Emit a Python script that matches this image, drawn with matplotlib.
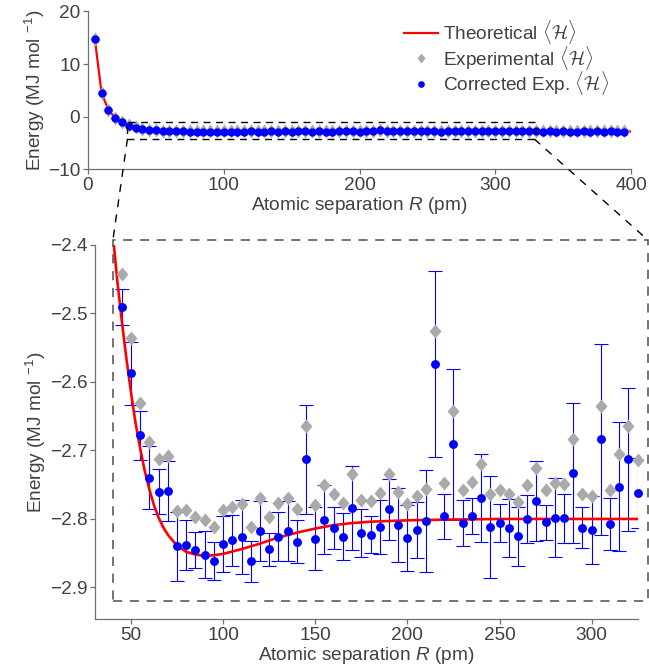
import numpy as np
import matplotlib
matplotlib.use('Agg')
import matplotlib.pyplot as plt
from matplotlib.patches import Rectangle, ConnectionPatch
from matplotlib.font_manager import FontProperties
from matplotlib.markers import MarkerStyle
from matplotlib.transforms import Affine2D

# ---- data -------------------------------------------------------------
# theoretical curve
theo_x = [5, 10, 15, 20, 25, 30, 35, 40, 42.5, 45, 47.5, 50, 52.5, 55, 57.5,
          60, 62.5, 65, 67.5, 70, 75, 80, 85, 90, 95, 100, 110, 120, 130, 140,
          150, 160, 170, 180, 190, 200, 220, 250, 300, 350, 400]
theo_y = [14.8, 4.5, 1.3, -0.2, -1.1, -1.7, -2.1, -2.38, -2.45, -2.51, -2.565,
          -2.615, -2.66, -2.697, -2.730, -2.757, -2.780, -2.798, -2.812, -2.823,
          -2.839, -2.848, -2.852, -2.854, -2.853, -2.851, -2.844, -2.836, -2.827,
          -2.820, -2.814, -2.809, -2.806, -2.804, -2.803, -2.802, -2.801, -2.800,
          -2.800, -2.800, -2.800]

# short separations (only visible in the overview panel)
near_x = [5, 10, 15, 20, 25, 30, 35, 40]
near_exp = [14.85, 4.55, 1.35, -0.25, -1.05, -1.65, -2.05, -2.33]
near_corr = [14.8, 4.5, 1.3, -0.3, -1.1, -1.7, -2.1, -2.38]

# zoomed range
zoom_x = np.arange(45, 330, 5)
zoom_corr = [-2.491, -2.587, -2.678, -2.740, -2.760, -2.759, -2.840, -2.838,
             -2.845, -2.852, -2.861, -2.837, -2.831, -2.826, -2.862, -2.818,
             -2.844, -2.826, -2.818, -2.833, -2.713, -2.829, -2.801, -2.813,
             -2.826, -2.784, -2.821, -2.823, -2.812, -2.786, -2.809, -2.828,
             -2.816, -2.803, -2.574, -2.796, -2.691, -2.806, -2.796, -2.769,
             -2.812, -2.806, -2.813, -2.825, -2.800, -2.774, -2.805, -2.798,
             -2.799, -2.733, -2.813, -2.816, -2.684, -2.808, -2.753, -2.713,
             -2.762]
zoom_exp = [-2.443, -2.536, -2.630, -2.688, -2.712, -2.708, -2.788, -2.787,
            -2.797, -2.802, -2.812, -2.787, -2.783, -2.778, -2.812, -2.769,
            -2.797, -2.776, -2.769, -2.785, -2.665, -2.779, -2.751, -2.764,
            -2.776, -2.735, -2.773, -2.774, -2.762, -2.735, -2.760, -2.778,
            -2.767, -2.756, -2.525, -2.747, -2.643, -2.757, -2.746, -2.720,
            -2.763, -2.757, -2.763, -2.775, -2.751, -2.726, -2.757, -2.748,
            -2.749, -2.684, -2.764, -2.766, -2.635, -2.758, -2.705, -2.664,
            -2.714]
zoom_err = [0.026, 0.046, 0.036, 0.046, 0.033, 0.044, 0.050, 0.037, 0.026,
            0.034, 0.028, 0.041, 0.037, 0.054, 0.030, 0.044, 0.024, 0.036,
            0.044, 0.032, 0.080, 0.046, 0.050, 0.031, 0.034, 0.062, 0.035,
            0.027, 0.039, 0.045, 0.054, 0.048, 0.041, 0.075, 0.136, 0.033,
            0.110, 0.034, 0.026, 0.064, 0.074, 0.028, 0.042, 0.043, 0.035,
            0.058, 0.025, 0.058, 0.036, 0.102, 0.030, 0.050, 0.140, 0.038,
            0.094, 0.104, 0.051]

# long separations (only visible in the overview panel)
far_x = [330, 335, 340, 345, 350, 355, 360, 365, 370, 375, 380, 385, 390, 395]
far_exp = [-2.76, -2.78, -2.74, -2.77, -2.75, -2.79, -2.77, -2.76, -2.78,
           -2.75, -2.77, -2.76, -2.79, -2.77]
far_corr = [-2.81, -2.83, -2.79, -2.82, -2.80, -2.84, -2.82, -2.81, -2.83,
            -2.80, -2.82, -2.81, -2.84, -2.82]

all_x = np.concatenate([near_x, zoom_x, far_x])
all_exp = np.concatenate([near_exp, zoom_exp, far_exp])
all_corr = np.concatenate([near_corr, zoom_corr, far_corr])

# ---- style ------------------------------------------------------------
fs = 13.7
plt.rcParams['font.family'] = ['Liberation Sans', 'DejaVu Sans']
plt.rcParams['font.size'] = fs
plt.rcParams['mathtext.fontset'] = 'custom'
plt.rcParams['mathtext.rm'] = 'Liberation Sans'
plt.rcParams['mathtext.it'] = 'Liberation Sans:italic'
txt_col = '#404040'
ax_col = '#707070'
diamond = MarkerStyle('D', transform=Affine2D().scale(0.62, 0.75))

fig = plt.figure(figsize=(6.49, 6.68), dpi=100)
ax_top = fig.add_axes([0.1356, 0.7466, 0.8367, 0.2362])
ax_bot = fig.add_axes([0.1464, 0.0734, 0.8362, 0.5599])

for ax in (ax_top, ax_bot):
    for s in ('top', 'right'):
        ax.spines[s].set_visible(False)
    for s in ('left', 'bottom'):
        ax.spines[s].set_color(ax_col)
        ax.spines[s].set_linewidth(0.9)
    ax.tick_params(direction='out', length=3.5, width=0.9, color=ax_col,
                   labelcolor=txt_col, labelsize=fs, pad=2)
    ax.set_xlabel(r'Atomic separation $\mathit{R}$ (pm)', color=txt_col, labelpad=1)
    ax.set_ylabel(r'Energy (MJ mol $^{-1}$)', color=txt_col, labelpad=1)

# top: overview
ax_top.plot(theo_x, theo_y, color='red', lw=1.6, zorder=2,
            label=r'Theoretical $\langle\mathcal{H}\rangle$')
ax_top.plot(all_x, all_exp, ls='none', marker=diamond, color='#aaaaaa', ms=9,
            mec='none', zorder=3, label=r'Experimental $\langle\mathcal{H}\rangle$')
ax_top.plot(all_x, all_corr, 'o', color='blue', ms=6, mec='none', zorder=4,
            label=r'Corrected Exp. $\langle\mathcal{H}\rangle$')
ax_top.set_xlim(0, 400)
ax_top.set_ylim(-10, 20)
ax_top.set_xticks([0, 100, 200, 300, 400])
ax_top.set_yticks([-10, 0, 10, 20])
ax_top.add_patch(Rectangle((29, -4.3), 300, 3.3, fill=False, ec='k', lw=1,
                           ls=(0, (5, 4)), zorder=5))

leg = ax_top.legend(loc='upper left', bbox_to_anchor=(404 / 649, 1 - 18 / 668),
                    bbox_transform=fig.transFigure, frameon=False,
                    borderpad=0, borderaxespad=0, handlelength=1.8,
                    handletextpad=0.25, labelspacing=-0.12, markerscale=0.8,
                    prop=FontProperties(family='Liberation Sans', size=fs,
                                        math_fontfamily='cm'))
for t in leg.get_texts():
    t.set_color(txt_col)

# bottom: zoom
ax_bot.errorbar(zoom_x, zoom_corr, yerr=zoom_err, fmt='none', ecolor='blue',
                elinewidth=0.8, capsize=5, capthick=0.8, zorder=1)
ax_bot.plot(theo_x, theo_y, color='red', lw=1.9, zorder=2)
ax_bot.plot(zoom_x, zoom_exp, ls='none', marker=diamond, color='#aaaaaa', ms=10,
            mec='none', zorder=3, clip_on=False)
ax_bot.plot(zoom_x, zoom_corr, 'o', color='blue', ms=6.4, mec='none', zorder=4,
            clip_on=False)
ax_bot.set_xlim(30.5, 325)
ax_bot.set_ylim(-2.946, -2.4)
ax_bot.set_xticks([50, 100, 150, 200, 250, 300])
ax_bot.set_yticks([-2.9, -2.8, -2.7, -2.6, -2.5, -2.4])
ax_bot.add_patch(Rectangle((40.2, -2.92), 290.4, 0.527, fill=False, ec='0.3',
                           lw=1.1, ls=(0, (6, 5)), clip_on=False, zorder=5))

# connectors between the two panels
for xa, xb in ((29, 40.2), (329, 330.6)):
    con = ConnectionPatch(xyA=(xa, -4.3), coordsA=ax_top.transData,
                          xyB=(xb, -2.393), coordsB=ax_bot.transData,
                          color='k', lw=1, ls=(0, (5, 6)))
    fig.add_artist(con)

fig.savefig('out.png', dpi=100)
